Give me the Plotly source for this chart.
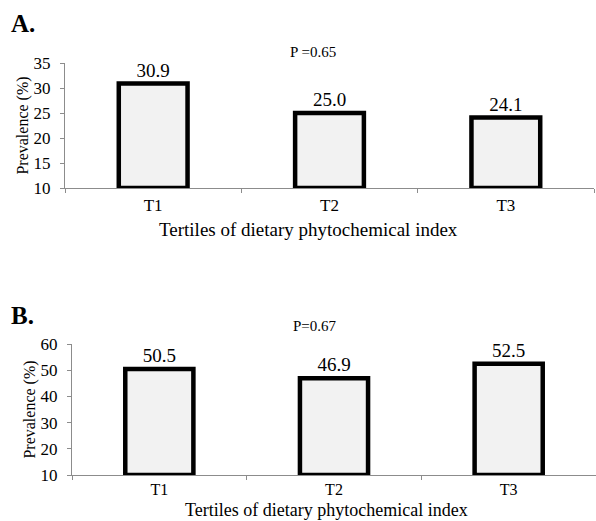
import plotly.graph_objects as go

categories = ["T1", "T2", "T3"]
values_a = [30.9, 25.0, 24.1]
values_b = [50.5, 46.9, 52.5]
p_a = "P =0.65"
p_b = "P=0.67"
base_a = 10
base_b = 10
yticks_a = [10, 15, 20, 25, 30, 35]
yticks_b = [10, 20, 30, 40, 50, 60]
x_title = "Tertiles of dietary phytochemical index"
y_title = "Prevalence (%)"

W, H = 596, 521
FONT = '"Liberation Serif", "Times New Roman", Times, serif'
AXC = "#8c8c8c"

def px_x(a, b):
    return [a / W, b / W]

def px_y(top, bottom):
    return [1 - bottom / H, 1 - top / H]

fig = go.Figure()
bar_style = dict(marker=dict(color="#f2f2f2", line=dict(color="black", width=4.5)),
                 width=0.39, textposition="outside", cliponaxis=False,
                 textfont=dict(family=FONT, size=19, color="black"),
                 showlegend=False, hoverinfo="skip")
fig.add_trace(go.Bar(x=categories, y=[v - base_a for v in values_a], base=base_a,
                     text=[f"{v:.1f}" for v in values_a], xaxis="x", yaxis="y", **bar_style))
fig.add_trace(go.Bar(x=categories, y=[v - base_b for v in values_b], base=base_b,
                     text=[f"{v:.1f}" for v in values_b], xaxis="x2", yaxis="y2", **bar_style))

xcommon = dict(showline=True, linecolor=AXC, linewidth=1, ticks="outside", tickson="boundaries",
               tickcolor=AXC, ticklen=4, showgrid=False, zeroline=False, automargin=False)
ycommon = dict(showline=True, linecolor=AXC, linewidth=1, ticks="outside", tickcolor=AXC,
               ticklen=4, tickfont=dict(family=FONT, size=17, color="black"),
               ticklabelstandoff=6, showgrid=False, zeroline=False, automargin=False)

fig.update_layout(
    width=W, height=H, margin=dict(l=0, r=0, t=0, b=0, autoexpand=False),
    paper_bgcolor="white", plot_bgcolor="white",
    font=dict(family=FONT, color="black"),
    xaxis=dict(domain=px_x(65, 594), anchor="y", ticklabelstandoff=2,
               tickfont=dict(family=FONT, size=17, color="black"), **xcommon),
    yaxis=dict(domain=px_y(63, 188), anchor="x", range=[10, 35], tickvals=yticks_a,
               title=dict(text=y_title, font=dict(family=FONT, size=16), standoff=0),
               **ycommon),
    xaxis2=dict(domain=px_x(72, 596), anchor="y2", ticklabelstandoff=0,
                tickfont=dict(family=FONT, size=16, color="black"), **xcommon),
    yaxis2=dict(domain=px_y(344, 475), anchor="x2", range=[10, 60], tickvals=yticks_b,
                title=dict(text=y_title, font=dict(family=FONT, size=16), standoff=0),
                **ycommon),
    annotations=[
        dict(text="<b>A.</b>", x=9 / W, y=1 - 23 / H, xref="paper", yref="paper",
             xanchor="left", yanchor="middle", showarrow=False, font=dict(family=FONT, size=25)),
        dict(text="<b>B.</b>", x=9 / W, y=1 - 315 / H, xref="paper", yref="paper",
             xanchor="left", yanchor="middle", showarrow=False, font=dict(family=FONT, size=25)),
        dict(text=p_a, x=313 / W, y=1 - 52 / H, xref="paper", yref="paper",
             xanchor="center", yanchor="middle", showarrow=False, font=dict(family=FONT, size=15)),
        dict(text=p_b, x=315 / W, y=1 - 326 / H, xref="paper", yref="paper",
             xanchor="center", yanchor="middle", showarrow=False, font=dict(family=FONT, size=15)),
        dict(text=x_title, x=309 / W, y=1 - 229 / H, xref="paper", yref="paper",
             xanchor="center", yanchor="middle", showarrow=False, font=dict(family=FONT, size=19)),
        dict(text=x_title, x=326 / W, y=0, xref="paper", yref="paper",
             xanchor="center", yanchor="bottom", showarrow=False, font=dict(family=FONT, size=18),
             borderpad=0),
    ],
)

fig.write_html("out.html", config={"displayModeBar": False},
               post_script="document.body.style.margin='0';document.body.style.padding='0';")
